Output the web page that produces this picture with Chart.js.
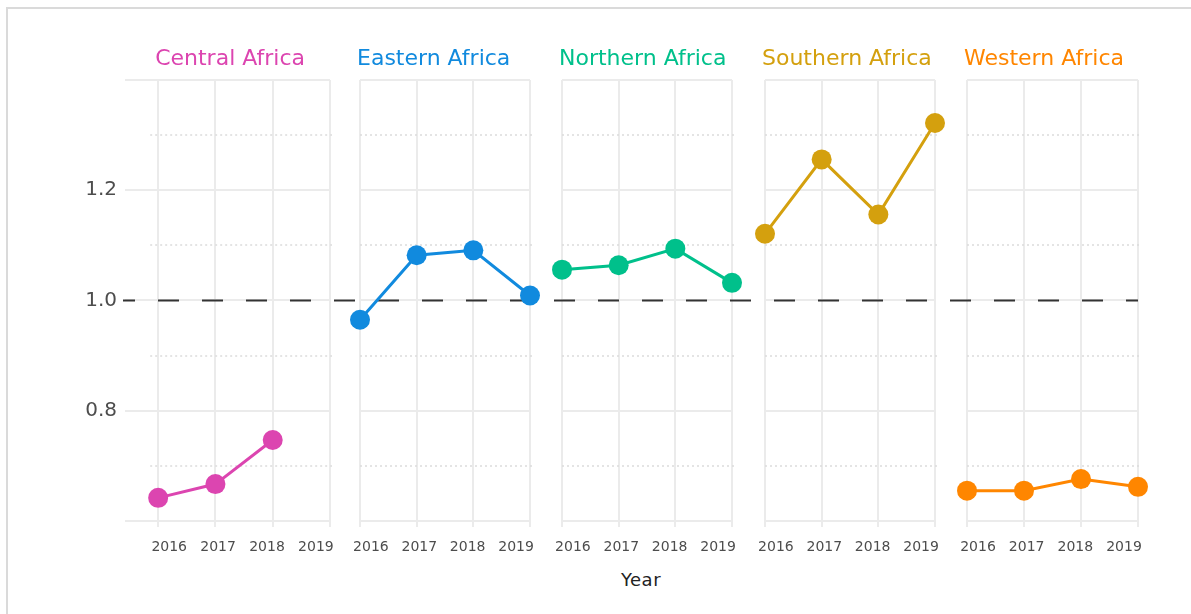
<!DOCTYPE html>
<html>
<head>
<meta charset="utf-8">
<script src="https://cdn.jsdelivr.net/npm/chart.js@4"></script>
<style>
  html, body { margin: 0; padding: 0; background: #fff; }
  #wrap { position: relative; width: 1191px; height: 614px; overflow: hidden; font-family: "DejaVu Sans", sans-serif; }
  #frame { position: absolute; left: 6px; top: 7px; width: 1300px; height: 700px;
           border-left: 2px solid #dadada; border-top: 2px solid #dadada; }
  .panel { position: absolute; top: 0; }
  .facet-title { position: absolute; top: 47px; font-size: 22px; line-height: 22px; white-space: nowrap; }
  #xtitle { position: absolute; top: 570px; left: 591px; width: 100px; text-align: center;
            font-size: 18px; line-height: 20px; color: #222; letter-spacing: 0.5px; }
</style>
</head>
<body>
<div id="wrap">
  <div id="frame"></div>
  <div id="xtitle">Year</div>
</div>
<script>
// data
const years = [2016, 2017, 2018, 2019];
const regions = ['Central Africa', 'Eastern Africa', 'Northern Africa', 'Southern Africa', 'Western Africa'];
const regionColors = ['#dc45b0', '#118ade', '#00c08b', '#d4a00e', '#ff8600'];

const centralAfrica  = [0.642, 0.667, 0.747, null];
const easternAfrica  = [0.965, 1.082, 1.091, 1.009];
const northernAfrica = [1.056, 1.064, 1.094, 1.032];
const southernAfrica = [1.121, 1.256, 1.156, 1.322];
const westernAfrica  = [0.655, 0.655, 0.676, 0.662];
const seriesValues = [centralAfrica, easternAfrica, northernAfrica, southernAfrica, westernAfrica];

const yGrid   = [0.6, 0.8, 1.0, 1.2, 1.4];
const yLabels = [0.8, 1.0, 1.2];
const yMinor  = [0.7, 0.9, 1.1, 1.3];
const refValue = 1.0;

// layout of the five canvases
const panelLeft  = [0, 345, 547, 749, 951];
const panelWidth = [345, 202, 202, 202, 240];
const padLeft    = [0, 15, 15, 16, 16];
const padRight   = [15, 17, 17, 16, 53];
const panelHeight = 560;

const gridColor = '#ebebeb';
const dashStart = 158;   // global x where a dash of the reference line begins
const dashPeriod = 44;

const facetLines = {
    id: 'facetLines',
    beforeDatasetsDraw(chart, args, opts) {
        const { ctx, chartArea, scales: { x, y } } = chart;
        ctx.save();

        // dotted minor grid lines
        ctx.strokeStyle = '#dcdcdc';
        ctx.lineWidth = 1.5;
        ctx.setLineDash([2, 3]);
        const mx0 = Math.max(chartArea.left, x.getPixelForValue(years[0]) - 8);
        yMinor.forEach(v => {
            const py = Math.round(y.getPixelForValue(v));
            ctx.beginPath();
            ctx.moveTo(mx0, py);
            ctx.lineTo(chartArea.right + 2, py);
            ctx.stroke();
        });

        // dashed reference line, continuous across panels
        const x0 = opts.first ? chartArea.left - 2 : 0;
        const x1 = opts.last ? chartArea.right : chart.width;
        const py = y.getPixelForValue(refValue);
        ctx.strokeStyle = '#333333';
        ctx.lineWidth = 2;
        ctx.setLineDash([21, 23]);
        ctx.lineDashOffset = (((opts.offset + x0 - dashStart) % dashPeriod) + dashPeriod) % dashPeriod;
        ctx.beginPath();
        ctx.moveTo(x0, py);
        ctx.lineTo(x1, py);
        ctx.stroke();
        ctx.restore();
    }
};

const wrap = document.getElementById('wrap');

regions.forEach((region, i) => {
    const holder = document.createElement('div');
    holder.className = 'panel';
    holder.style.left = panelLeft[i] + 'px';
    holder.style.width = panelWidth[i] + 'px';
    holder.style.height = panelHeight + 'px';
    const canvas = document.createElement('canvas');
    canvas.width = panelWidth[i];
    canvas.height = panelHeight;
    holder.appendChild(canvas);
    wrap.appendChild(holder);

    const first = i === 0;
    const last = i === regions.length - 1;
    const points = years
        .map((yr, k) => ({ x: yr, y: seriesValues[i][k] }))
        .filter(p => p.y !== null);

    const chart = new Chart(canvas.getContext('2d'), {
        type: 'line',
        data: {
            datasets: [{
                label: region,
                data: points,
                borderColor: regionColors[i],
                backgroundColor: regionColors[i],
                borderWidth: 3,
                pointRadius: 10,
                pointHoverRadius: 10,
                pointBorderWidth: 0,
                tension: 0,
                clip: false
            }]
        },
        options: {
            responsive: false,
            animation: false,
            events: [],
            layout: { padding: { top: 80, bottom: 0, left: padLeft[i], right: padRight[i] } },
            plugins: {
                legend: { display: false },
                tooltip: { enabled: false },
                facetLines: { first: first, last: last, offset: panelLeft[i] }
            },
            scales: {
                x: {
                    type: 'linear',
                    position: 'bottom',
                    min: first ? 2015.421 : 2016,
                    max: 2019,
                    afterBuildTicks: s => { s.ticks = years.map(v => ({ value: v })); },
                    afterFit: s => { s.height = 6; },
                    grid: { color: gridColor, lineWidth: 2, drawTicks: true, tickLength: 6, tickColor: gridColor, tickWidth: 2 },
                    border: { display: false },
                    ticks: { display: false }
                },
                x2: {
                    type: 'linear',
                    position: 'bottom',
                    min: first ? 2015.096 : 2015.774,
                    max: 2019.288,
                    afterBuildTicks: s => { s.ticks = years.map(v => ({ value: v })); },
                    afterFit: s => { s.height = 33; },
                    grid: { display: false },
                    border: { display: false },
                    ticks: {
                        padding: 4,
                        autoSkip: false,
                        maxRotation: 0,
                        color: '#4d4d4d',
                        font: { family: 'DejaVu Sans', size: 14 },
                        callback: v => String(v)
                    }
                },
                y: {
                    type: 'linear',
                    min: 0.6,
                    max: 1.4,
                    afterBuildTicks: s => { s.ticks = yGrid.map(v => ({ value: v })); },
                    afterFit: s => { s.width = first ? 125 : 0; },
                    grid: { color: gridColor, lineWidth: 2, drawTicks: false },
                    border: { display: false },
                    ticks: {
                        display: first,
                        padding: 8,
                        color: '#4d4d4d',
                        font: { family: 'DejaVu Sans', size: 20 },
                        callback: v => yLabels.some(l => Math.abs(l - v) < 1e-6) ? v.toFixed(1) : ''
                    }
                }
            }
        },
        plugins: [facetLines]
    });

    // facet title, left-aligned on the first year gridline
    const title = document.createElement('div');
    title.className = 'facet-title';
    title.textContent = region;
    title.style.color = regionColors[i];
    title.style.left = (panelLeft[i] + chart.scales.x.getPixelForValue(years[0]) - 3) + 'px';
    wrap.appendChild(title);
});
</script>
</body>
</html>
